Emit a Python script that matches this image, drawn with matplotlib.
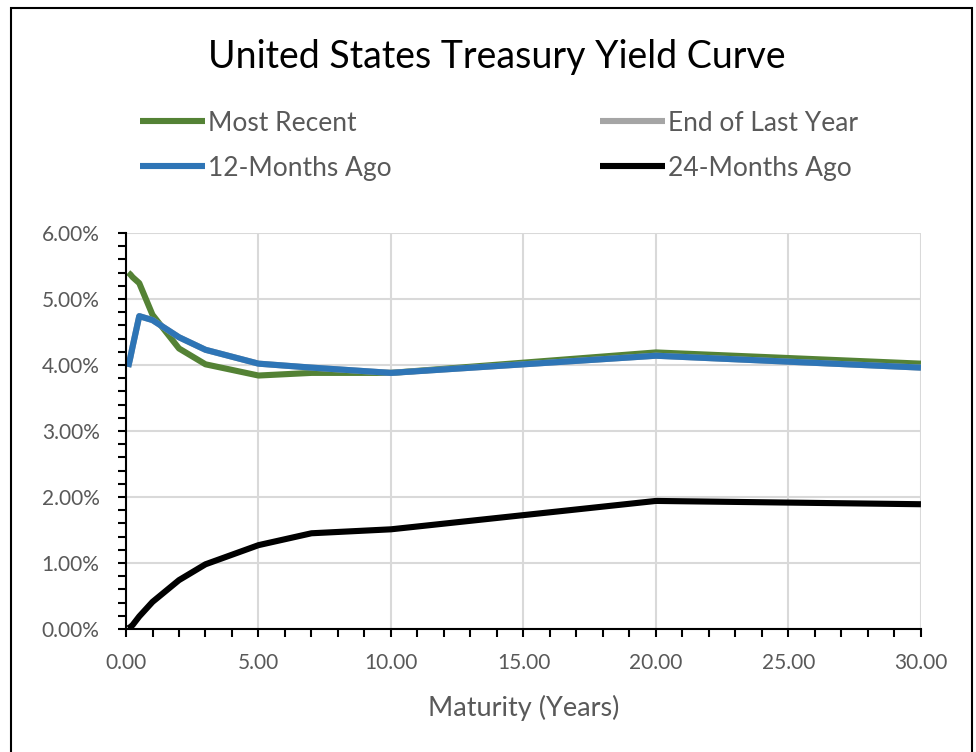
import matplotlib.pyplot as plt
from matplotlib.ticker import MultipleLocator, FuncFormatter
from matplotlib.patches import Rectangle

# maturities in years: 1m, 2m, 3m, 6m, 1y, 2y, 3y, 5y, 7y, 10y, 20y, 30y
maturity = [0.083, 0.167, 0.25, 0.5, 1, 2, 3, 5, 7, 10, 20, 30]

most_recent = [5.40, 5.37, 5.33, 5.24, 4.76, 4.25, 4.01, 3.84, 3.88, 3.88, 4.19, 4.02]
end_last_year = [3.97, 4.12, 4.28, 4.74, 4.68, 4.42, 4.23, 4.02, 3.96, 3.88, 4.14, 3.96]
months_12_ago = [3.97, 4.12, 4.28, 4.74, 4.68, 4.42, 4.23, 4.02, 3.96, 3.88, 4.14, 3.96]
months_24_ago = [0.01, 0.03, 0.06, 0.19, 0.41, 0.74, 0.98, 1.27, 1.45, 1.51, 1.94, 1.89]

series = [
    ("Most Recent", most_recent, "#548235"),
    ("End of Last Year", end_last_year, "#A5A5A5"),
    ("12-Months Ago", months_12_ago, "#2E75B6"),
    ("24-Months Ago", months_24_ago, "#000000"),
]

plt.rcParams['font.family'] = ['Lato', 'DejaVu Sans']
grey = "#595959"

fig = plt.figure(figsize=(9.76, 7.52), dpi=100)
ax = fig.add_axes([0.1291, 0.1636, 0.8145, 0.5266])

lines = {}
for name, vals, col in series:
    lines[name], = ax.plot(maturity, vals, color=col, linewidth=4.4, label=name,
                           solid_capstyle="butt", solid_joinstyle="round")

ax.set_xlim(0, 30)
ax.set_ylim(0, 6)
ax.xaxis.set_major_locator(MultipleLocator(5))
ax.xaxis.set_minor_locator(MultipleLocator(1))
ax.yaxis.set_major_locator(MultipleLocator(1))
ax.yaxis.set_minor_locator(MultipleLocator(0.2))
ax.xaxis.set_major_formatter(FuncFormatter(lambda v, p: f"{v:.2f}"))
ax.yaxis.set_major_formatter(FuncFormatter(lambda v, p: f"{v:.2f}%"))

ax.grid(True, which="major", color="#d9d9d9", linewidth=1.5)
ax.set_axisbelow(True)
for s in ["top", "right"]:
    ax.spines[s].set_visible(False)
for s in ["left", "bottom"]:
    ax.spines[s].set_color("black")
    ax.spines[s].set_linewidth(1.5)

ax.tick_params(which="both", direction="out", length=6, width=1.5, color="black",
               labelcolor=grey, labelsize=15)
ax.tick_params(axis="x", pad=11)
ax.tick_params(axis="y", pad=13)

ax.set_xlabel("Maturity (Years)", fontsize=19.5, color=grey, labelpad=16)

fig.text(0.509, 0.924, "United States Treasury Yield Curve", ha="center", va="center",
         fontsize=27, color="black")

# legend rows: Most Recent / End of Last Year, 12-Months Ago / 24-Months Ago
order = ["Most Recent", "12-Months Ago", "End of Last Year", "24-Months Ago"]
ax.legend([lines[n] for n in order], order,
          loc="upper left", bbox_to_anchor=(0.1434, 0.853), bbox_transform=fig.transFigure,
          ncol=2, frameon=False, fontsize=19, labelcolor=grey, handlelength=2.46,
          handletextpad=0.12, columnspacing=7.9, labelspacing=0.76, borderpad=0,
          borderaxespad=0)

fig.patches.append(Rectangle((0.011, -0.01), 0.985, 0.999, transform=fig.transFigure,
                             fill=False, edgecolor="black", linewidth=1.5))

plt.savefig("out.png", dpi=100)
